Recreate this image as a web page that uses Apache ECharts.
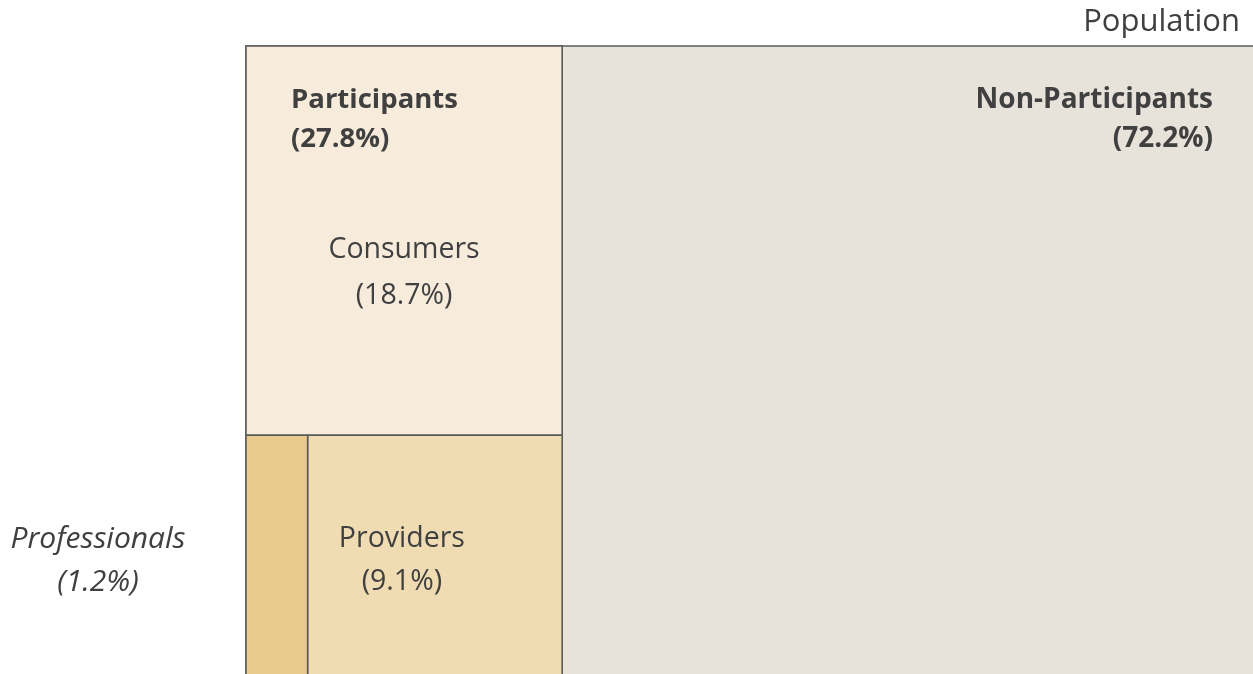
<!DOCTYPE html>
<html>
<head>
<meta charset="utf-8">
<script src="https://cdn.jsdelivr.net/npm/echarts@6/dist/echarts.min.js"></script>
<style>
  html, body { margin: 0; padding: 0; background: #fff; overflow: hidden; }
  /* a bit larger than the window: the outer right / bottom borders are cropped like the source */
  #chart { width: 1256px; height: 677px; }
</style>
</head>
<body>
<div id="chart"></div>
<script>
    // segments of the population, in drawing order (parent first)
    const names = ['Non-Participants', 'Participants', 'Consumers', 'Providers', 'Professionals']
    const shares = [72.2, 27.8, 18.7, 9.1, 1.2]
    // rectangle extents, in axis units (0..100)
    const xStart = [31.3, 0, 0, 6.1, 0]
    const xEnd = [100, 31.3, 31.3, 31.3, 6.1]
    const yStart = [0, 0, 38.3, 0, 0]
    const yEnd = [100, 100, 100, 38.3, 38.3]

    const fills = {
        'Non-Participants': '#e7e2da',
        'Participants': '#f7ecdb',
        'Consumers': '#f7ecdb',
        'Providers': '#efdcb2',
        'Professionals': '#e8ca8c'
    }

    const FONT = 'Open Sans'

    // where each label sits, relative to its rectangle
    const labelStyle = {
        'Non-Participants': {anchor: 'right', dx: -43, dy: 54, align: 'right', bold: true, lh: 39, size: 28},
        'Participants': {anchor: 'left', dx: 45, dy: 54, align: 'left', bold: true, lh: 39, size: 27.5},
        'Consumers': {anchor: 'center', dx: 0, dy: 204, align: 'center', lh: 46, size: 28.5},
        'Providers': {anchor: 'center', dx: -33, dy: 104, align: 'center', lh: 43, size: 28.5},
        'Professionals': {anchor: 'left', dx: -148, dy: 104, align: 'center', italic: true, lh: 43, size: 30}
    }

    const rows = names.map((n, i) => [xStart[i], xEnd[i], yStart[i], yEnd[i], shares[i], n])

    const chart = echarts.init(document.getElementById('chart'))

    chart.setOption({
        animation: false,
        title: {
            text: 'Population',
            right: 11,
            top: 2,
            textStyle: {
                fontFamily: FONT,
                fontWeight: 'normal',
                fontSize: 31,
                color: '#404040'
            }
        },
        grid: {left: 246, top: 46, right: 0, bottom: 0},
        xAxis: {type: 'value', min: 0, max: 100, show: false},
        yAxis: {type: 'value', min: 0, max: 100, show: false},
        series: [{
            type: 'custom',
            data: rows,
            clip: false,
            renderItem(params, api) {
                let tl = api.coord([api.value(0), api.value(3)]),
                    br = api.coord([api.value(1), api.value(2)])
                let name = names[params.dataIndex]
                let s = labelStyle[name]
                let x = s.anchor === 'left' ? tl[0] : s.anchor === 'right' ? br[0] : (tl[0] + br[0]) / 2
                return {
                    type: 'group',
                    children: [{
                        type: 'rect',
                        z2: 0,
                        shape: {x: tl[0], y: tl[1], width: br[0] - tl[0], height: br[1] - tl[1]},
                        style: {fill: fills[name], stroke: '#595959', lineWidth: 1.5}
                    }, {
                        // labels above every rect, so the Participants header stays visible over Consumers
                        type: 'text',
                        z2: 10,
                        style: {
                            text: name + '\n(' + api.value(4).toFixed(1) + '%)',
                            x: x + s.dx,
                            y: tl[1] + s.dy - s.lh / 2,
                            align: s.align,
                            verticalAlign: 'top',
                            lineHeight: s.lh,
                            fontFamily: FONT,
                            fontSize: s.size,
                            fontWeight: s.bold ? 'bold' : 'normal',
                            fontStyle: s.italic ? 'italic' : 'normal',
                            fill: '#404040'
                        }
                    }]
                }
            }
        }]
    })
</script>
</body>
</html>
